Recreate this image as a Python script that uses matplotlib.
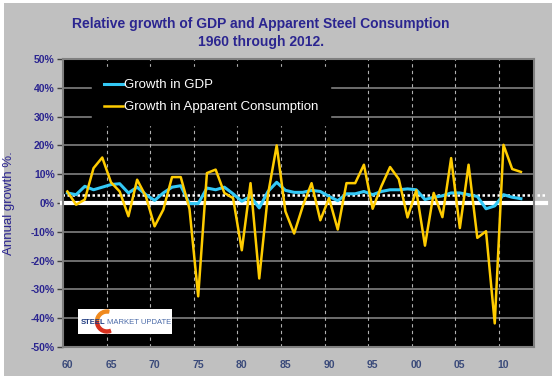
import matplotlib
matplotlib.use("Agg")
import matplotlib.pyplot as plt
from matplotlib.patches import Rectangle, Wedge

plt.rcParams['font.family'] = ['Liberation Sans', 'DejaVu Sans']

# data
years = list(range(1960, 2013))
gdp = [3.5, 2.9, 5.8, 4.6, 5.5, 6.4, 6.7, 3.5, 5.5, 2.9, 0.9, 3.5, 5.5, 6.0,
       -0.2, -0.2, 5.2, 4.6, 5.5, 3.2, 0.6, 2.3, -1.7, 4.0, 7.2, 4.4, 3.7,
       3.7, 4.4, 4.0, 2.3, 0.8, 3.2, 3.2, 4.0, 2.9, 4.0, 4.6, 4.6, 4.9,
       4.6, 1.2, 2.0, 2.5, 3.5, 3.5, 2.9, 2.3, -2.0, -1.0, 2.9, 2.0, 1.5]
steel = [4.0, -0.6, 1.2, 12.1, 15.8, 7.2, 4.0, -4.6, 8.1, 2.3, -8.1, -2.3, 9.0, 9.0,
         -2.0, -32.4, 10.4, 11.6, 3.5, 1.7, -16.4, 6.9, -26.2, 2.9, 20.0, -2.9, -10.6,
         -1.0, 6.9, -6.0, 1.7, -9.2, 6.9, 6.9, 13.3, -2.0, 5.8, 12.5, 8.3, -5.0,
         4.4, -14.8, 3.5, -4.9, 15.6, -8.7, 13.3, -12.1, -9.8, -41.8, 20.2, 11.8, 10.8]
avg_gdp = 2.8

label_years = [1960, 1965, 1970, 1975, 1980, 1985, 1990, 1995, 2000, 2005, 2010]
x_labels = ['60', '65', '70', '75', '80', '85', '90', '95', '00', '05', '10']
y_ticks = [-50, -40, -30, -20, -10, 0, 10, 20, 30, 40, 50]

navy = '#2B2590'

fig = plt.figure(figsize=(5.57, 3.80), dpi=100, facecolor='white')
fig.patches.append(Rectangle((0.008, 0.0105), 0.983, 0.981, transform=fig.transFigure,
                             facecolor='#C0C0C0', edgecolor='none', zorder=-1))

ax = fig.add_axes([0.1131, 0.0868, 0.8456, 0.7579], facecolor='black')

# grid
for v in y_ticks:
    ax.axhline(v, color='#808080', lw=1.2, zorder=1)
for yr in label_years[1:]:
    ax.axvline(yr - 0.5, color='#B0B0B0', lw=0.8, ls=(0, (3, 3)), zorder=1)

# zero line and average line, running past the right edge
ax.axhline(0, xmin=-0.003, xmax=1.025, color='white', lw=3, clip_on=False, zorder=2)
ax.axhline(avg_gdp, xmin=-0.003, xmax=1.025, color='white', lw=1.8,
           ls=(0, (1, 1)), clip_on=False, zorder=2)

ax.plot(years, gdp, color='#33C8F5', lw=2.2, label='Growth in GDP', zorder=3)
ax.plot(years, steel, color='#FFCC00', lw=1.8, label='Growth in Apparent Consumption', zorder=4)

ax.set_xlim(1959.5, 2013.5)
ax.set_ylim(-50, 50)
ax.set_yticks(y_ticks)
ax.set_yticklabels([f'{v}%' for v in y_ticks])
ax.set_xticks(label_years)
ax.set_xticklabels(x_labels)
ax.tick_params(axis='y', length=4, width=1, color='#404040', pad=2,
               labelsize=7.5, labelcolor=navy)
ax.tick_params(axis='x', length=0, pad=9, labelsize=7.5, labelcolor='#3A4A7A')
for lab in ax.get_xticklabels() + ax.get_yticklabels():
    lab.set_fontweight('bold')
for s in ax.spines.values():
    s.set_color('#808080')
    s.set_linewidth(1.5)

ax.set_ylabel('Annual growth %.', fontsize=9.5, color=navy)
ax.yaxis.set_label_coords(-0.102, 0.5)

leg = ax.legend(loc='upper left', bbox_to_anchor=(0.062, 0.972), borderaxespad=0,
                frameon=True, facecolor='black', edgecolor='black', framealpha=1,
                fancybox=False, fontsize=9.5, handlelength=1.4, handletextpad=0.1,
                labelspacing=0.75, borderpad=0.9)
for t in leg.get_texts():
    t.set_color('white')
leg.set_zorder(5)

fig.text(0.469, 1 - 33 / 380, 'Relative growth of GDP and Apparent Steel Consumption\n1960 through 2012.',
         ha='center', va='center', fontsize=10, fontweight='bold', color=navy, linespacing=1.45)

# logo box
lg = fig.add_axes([78 / 557, 1 - 334 / 380, 94 / 557, 25 / 380], facecolor='white')
lg.set_xlim(0, 94)
lg.set_ylim(0, 25)
lg.set_xticks([])
lg.set_yticks([])
for s in lg.spines.values():
    s.set_visible(False)
lg.add_patch(Wedge((29, 12.5), 11.5, 80, 180, width=3.0, color='#F08A1E'))
lg.add_patch(Wedge((29, 12.5), 11.5, 180, 290, width=3.0, color='#D8311E'))
lg.text(3, 12, 'STEEL', fontsize=5.5, fontweight='bold', color='#1E3A80', va='center')
lg.text(29, 12, 'MARKET UPDATE', fontsize=5.5, color='#4A6AA8', va='center')

fig.savefig('out.png', dpi=100, facecolor='white')
